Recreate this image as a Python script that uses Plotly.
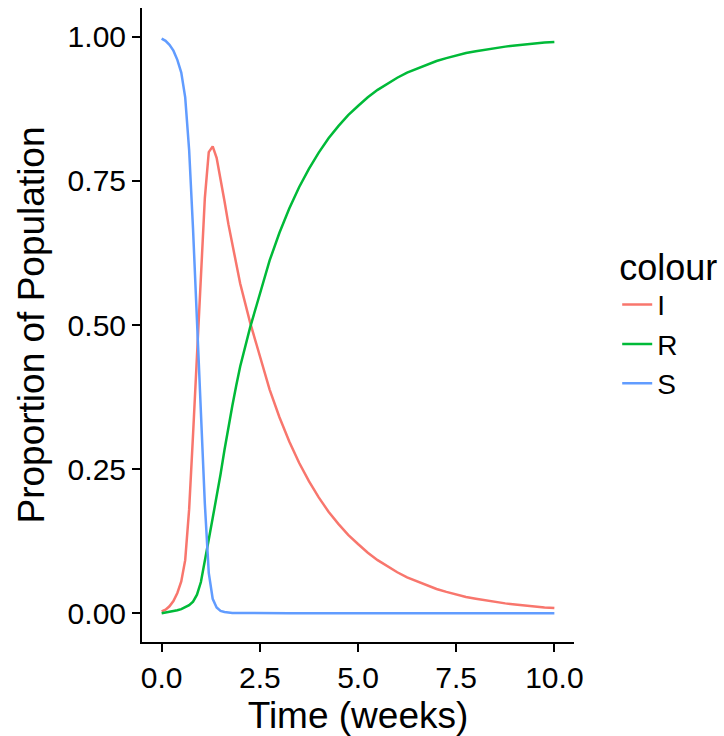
import plotly.graph_objects as go

# Time points (weeks)
time_weeks = [0.0, 0.1, 0.2, 0.3, 0.4, 0.5, 0.6, 0.7, 0.8, 0.9,
              1.0, 1.1, 1.2, 1.3, 1.4, 1.5, 1.6, 1.7, 1.8, 1.9,
              2.0, 2.25, 2.5, 2.75, 3.0, 3.25, 3.5, 3.75, 4.0, 4.25,
              4.5, 4.75, 5.0, 5.25, 5.5, 5.75, 6.0, 6.25, 6.5, 6.75,
              7.0, 7.25, 7.5, 7.75, 8.0, 8.25, 8.5, 8.75, 9.0, 9.25,
              9.5, 9.75, 10.0]

# Proportion susceptible
susceptible = [0.997, 0.993, 0.986, 0.976, 0.960, 0.938, 0.895, 0.804, 0.666, 0.515,
               0.350, 0.190, 0.070, 0.025, 0.010, 0.004, 0.002, 0.001, 0.0005, 0.0003,
               0.0002, 0.0001, 0.0, 0.0, 0.0, 0.0, 0.0, 0.0, 0.0, 0.0,
               0.0, 0.0, 0.0, 0.0, 0.0, 0.0, 0.0, 0.0, 0.0, 0.0,
               0.0, 0.0, 0.0, 0.0, 0.0, 0.0, 0.0, 0.0, 0.0, 0.0,
               0.0, 0.0, 0.0]

# Proportion infected
infected = [0.003, 0.006, 0.012, 0.021, 0.035, 0.055, 0.092, 0.180, 0.310, 0.455,
            0.600, 0.720, 0.800, 0.810, 0.790, 0.755, 0.715, 0.675, 0.640, 0.605,
            0.572, 0.505, 0.445, 0.388, 0.340, 0.298, 0.261, 0.229, 0.201, 0.176,
            0.155, 0.136, 0.120, 0.105, 0.092, 0.081, 0.071, 0.062, 0.055, 0.048,
            0.042, 0.037, 0.032, 0.028, 0.025, 0.022, 0.019, 0.017, 0.015, 0.013,
            0.011, 0.010, 0.009]

# Proportion recovered
recovered = [0.000, 0.001, 0.002, 0.003, 0.005, 0.007, 0.010, 0.014, 0.020, 0.032,
             0.054, 0.088, 0.128, 0.165, 0.200, 0.241, 0.283, 0.324, 0.360, 0.395,
             0.428, 0.495, 0.555, 0.612, 0.660, 0.702, 0.739, 0.771, 0.799, 0.824,
             0.845, 0.864, 0.880, 0.895, 0.908, 0.919, 0.929, 0.938, 0.945, 0.952,
             0.958, 0.963, 0.968, 0.972, 0.975, 0.978, 0.981, 0.983, 0.985, 0.987,
             0.989, 0.990, 0.991]

series_names = ["I", "R", "S"]
series_colors = ["#F8766D", "#00BA38", "#619CFF"]
series_values = [infected, recovered, susceptible]

x_ticks = [0.0, 2.5, 5.0, 7.5, 10.0]
y_ticks = [0.0, 0.25, 0.50, 0.75, 1.00]

FONT = "Liberation Sans, Arial, Helvetica, sans-serif"

fig = go.Figure()
for name, color, vals in zip(series_names, series_colors, series_values):
    fig.add_trace(go.Scatter(
        x=time_weeks, y=vals, mode="lines", name=name,
        line=dict(color=color, width=2.5),
    ))

axis_common = dict(
    showgrid=False, zeroline=False,
    showline=True, linecolor="black", linewidth=2,
    ticks="outside", ticklen=8, tickwidth=2, tickcolor="black",
    tickfont=dict(family=FONT, size=30, color="black"),
)

fig.update_layout(
    width=724, height=736,
    margin=dict(l=142, r=150, t=8, b=94, autoexpand=False),
    paper_bgcolor="white", plot_bgcolor="white",
    font=dict(family=FONT, color="black"),
    xaxis=dict(
        range=[-0.5, 10.5], tickvals=x_ticks, tickformat=".1f",
        title=dict(text="Time (weeks)", font=dict(family=FONT, size=37), standoff=10),
        **axis_common,
    ),
    yaxis=dict(
        range=[-0.05, 1.05], tickvals=y_ticks, tickformat=".2f",
        title=dict(text="Proportion of Population", font=dict(family=FONT, size=37), standoff=12),
        **axis_common,
    ),
    legend=dict(
        title=dict(text="colour", font=dict(family=FONT, size=36)),
        font=dict(family=FONT, size=28),
        x=1.10, xanchor="left", y=0.507, yanchor="middle",
        bgcolor="rgba(0,0,0,0)", itemwidth=30,
    ),
    showlegend=True,
)

fig.write_html("out.html")
